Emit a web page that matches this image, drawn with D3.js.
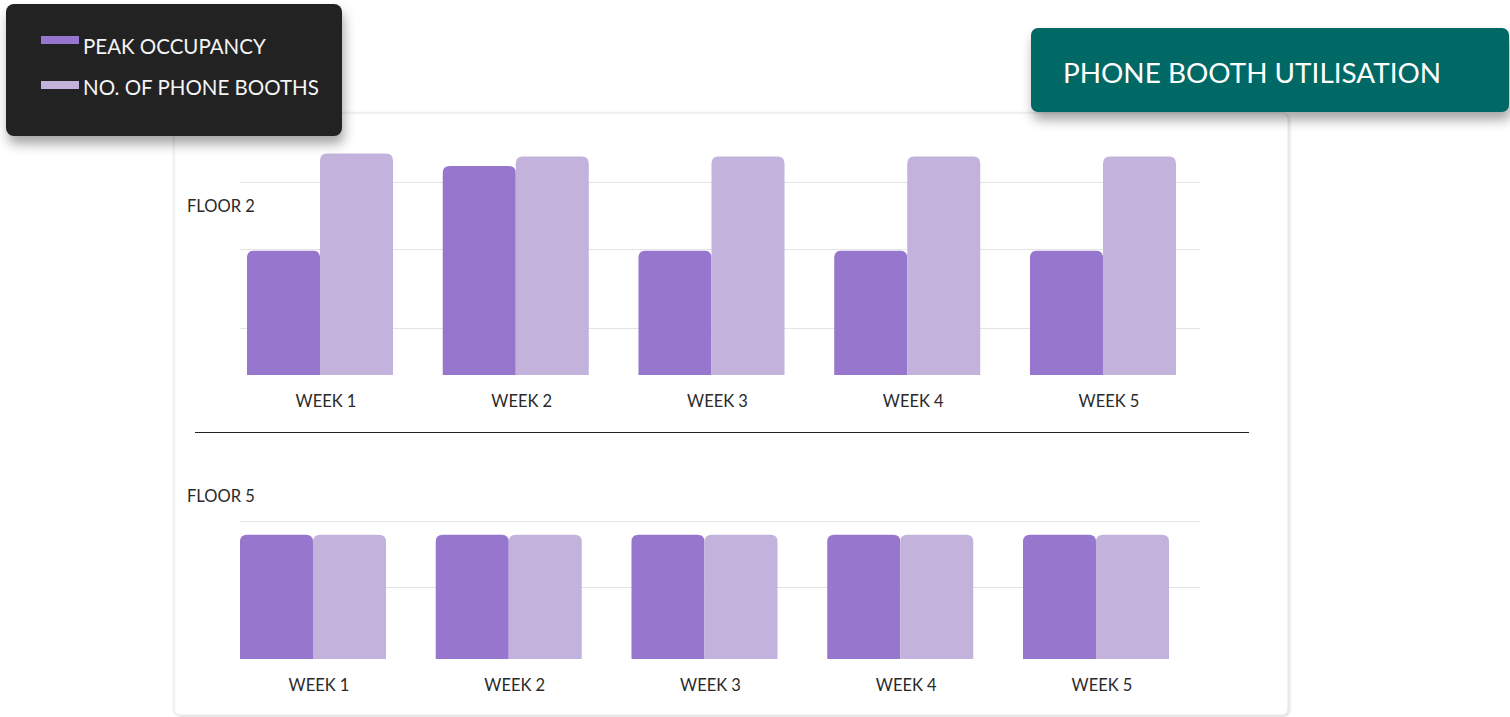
<!DOCTYPE html>
<html>
<head>
<meta charset="utf-8">
<script src="https://cdn.jsdelivr.net/npm/d3@7"></script>
<style>
  html, body { margin: 0; padding: 0; background: #ffffff; }
  svg { display: block; font-family: Lato, "Open Sans", sans-serif; }
</style>
</head>
<body>
<svg id="chart" width="1510" height="717"></svg>
<script>
// Weekly phone booth figures per floor
const weeks = ["WEEK 1", "WEEK 2", "WEEK 3", "WEEK 4", "WEEK 5"];
const seriesKeys = ["peak", "booths"];
const seriesLabels = ["PEAK OCCUPANCY", "NO. OF PHONE BOOTHS"];
const floor2Peak = [3.95, 6.65, 3.95, 3.95, 3.95];
const floor2Booths = [7.05, 6.95, 6.95, 6.95, 6.95];
const floor5Peak = [3.95, 3.95, 3.95, 3.95, 3.95];
const floor5Booths = [3.95, 3.95, 3.95, 3.95, 3.95];
const floor2Grid = [1.5, 4, 6.15];
const floor5Grid = [2.3, 4.4];
const titleText = "PHONE BOOTH UTILISATION";

const colors = { peak: "#9776cd", booths: "#c3b3dc" };

const svg = d3.select("#chart");
const defs = svg.append("defs");

// soft drop shadows for the card and the two dark/teal boxes
const sh = defs.append("filter").attr("id", "boxShadow")
  .attr("x", "-10%").attr("y", "-20%").attr("width", "125%").attr("height", "160%");
sh.append("feDropShadow").attr("dx", 2).attr("dy", 8).attr("stdDeviation", 6)
  .attr("flood-color", "#000").attr("flood-opacity", 0.35);
const cs = defs.append("filter").attr("id", "cardShadow")
  .attr("x", "-5%").attr("y", "-5%").attr("width", "110%").attr("height", "110%");
cs.append("feDropShadow").attr("dx", 1).attr("dy", 1).attr("stdDeviation", 1.5)
  .attr("flood-color", "#000").attr("flood-opacity", 0.18);

// card
svg.append("rect")
  .attr("x", 174).attr("y", 113).attr("width", 1114).attr("height", 602)
  .attr("rx", 6).attr("fill", "#fff").attr("stroke", "#e6e6e6")
  .attr("filter", "url(#cardShadow)");

// rounded-top bar path
function topRounded(x, y, w, h, r) {
  r = Math.min(r, w / 2, h);
  return `M${x},${y + h}V${y + r}Q${x},${y} ${x + r},${y}H${x + w - r}Q${x + w},${y} ${x + w},${y + r}V${y + h}Z`;
}

function drawPanel(cfg) {
  const g = svg.append("g");
  const x0 = d3.scaleBand().domain(weeks).range(cfg.xRange).paddingInner(0.254).paddingOuter(0);
  const x1 = d3.scaleBand().domain(seriesKeys).range([0, x0.bandwidth()]);
  const y = d3.scaleLinear().domain([0, 7]).range([cfg.base, cfg.base - 220]);

  // gridlines
  g.selectAll("line.grid").data(cfg.grid).join("line")
    .attr("x1", 240).attr("x2", 1200)
    .attr("y1", d => Math.round(y(d)) + 0.5).attr("y2", d => Math.round(y(d)) + 0.5)
    .attr("stroke", "#e4e4e4").attr("stroke-width", 1.2);

  const rows = weeks.map((w, i) => ({ week: w, peak: cfg.peak[i], booths: cfg.booths[i] }));
  const grp = g.selectAll("g.week").data(rows).join("g")
    .attr("transform", d => `translate(${x0(d.week)},0)`);
  grp.selectAll("path").data(d => seriesKeys.map(k => ({ key: k, value: d[k] }))).join("path")
    .attr("d", d => topRounded(x1(d.key), y(d.value), x1.bandwidth(), y(0) - y(d.value), 7))
    .attr("fill", d => colors[d.key]);

  // week labels
  const xAxis = d3.axisBottom(x0).tickSize(0).tickPadding(0);
  const ax = g.append("g").attr("transform", `translate(6,${cfg.base + 20})`).call(xAxis);
  ax.select(".domain").remove();
  ax.selectAll("text").attr("font-size", 16.5).attr("fill", "#2a2a2a")
    .attr("font-family", "Lato, sans-serif").attr("dy", "0.71em");

  g.append("text").attr("x", 187).attr("y", cfg.labelY)
    .attr("font-size", 16.5).attr("fill", "#2a2a2a").text(cfg.label);
}

drawPanel({ label: "FLOOR 2", labelY: 212, base: 375, xRange: [247, 1176],
  peak: floor2Peak, booths: floor2Booths, grid: floor2Grid });
drawPanel({ label: "FLOOR 5", labelY: 502, base: 659, xRange: [240, 1169],
  peak: floor5Peak, booths: floor5Booths, grid: floor5Grid });

// divider between floors
svg.append("line").attr("x1", 195).attr("x2", 1249).attr("y1", 432.5).attr("y2", 432.5)
  .attr("stroke", "#222").attr("stroke-width", 1.2);

// legend box
const lg = svg.append("g");
lg.append("rect").attr("x", 6).attr("y", 4).attr("width", 336).attr("height", 132)
  .attr("rx", 8).attr("fill", "#222222").attr("filter", "url(#boxShadow)");
seriesKeys.forEach((k, i) => {
  lg.append("rect").attr("x", 41).attr("y", 36 + i * 45).attr("width", 38).attr("height", 8)
    .attr("fill", colors[k]);
  lg.append("text").attr("x", 83).attr("y", 54 + i * 41)
    .attr("font-size", 20.5).attr("fill", "#f4f4f4").text(seriesLabels[i]);
});

// title box
const tg = svg.append("g");
tg.append("rect").attr("x", 1031).attr("y", 28).attr("width", 478).attr("height", 84)
  .attr("rx", 7).attr("fill", "#006966").attr("filter", "url(#boxShadow)");
tg.append("text").attr("x", 1063).attr("y", 83)
  .attr("font-size", 27.9).attr("fill", "#ffffff").text(titleText);
</script>
</body>
</html>
